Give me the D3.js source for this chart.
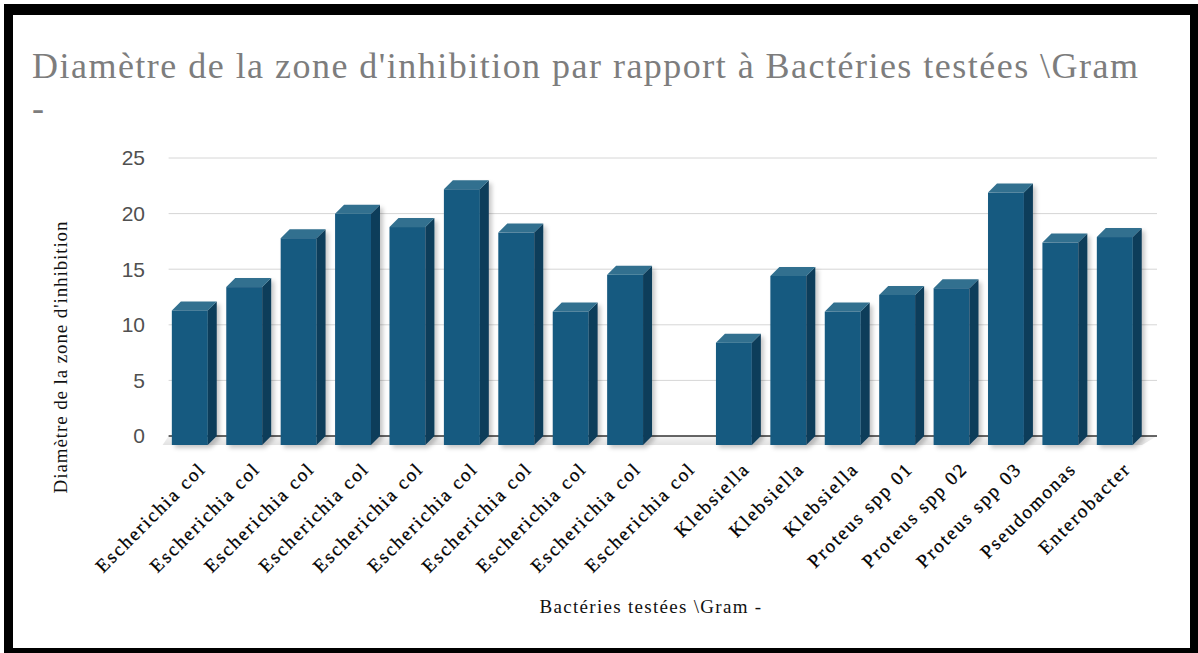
<!DOCTYPE html>
<html>
<head>
<meta charset="utf-8">
<script src="https://cdn.jsdelivr.net/npm/d3@7"></script>
<style>
  body { margin: 0; background: #fff; }
  svg { display: block; }
</style>
</head>
<body>
<svg id="chart" width="1198" height="653"></svg>
<script>
// bacteria tested (Gram -) and inhibition zone diameter
const categories = [
  "Escherichia col", "Escherichia col", "Escherichia col", "Escherichia col", "Escherichia col",
  "Escherichia col", "Escherichia col", "Escherichia col", "Escherichia col", "Escherichia col",
  "Klebsiella", "Klebsiella", "Klebsiella",
  "Proteus spp 01", "Proteus spp 02", "Proteus spp 03",
  "Pseudomonas", "Enterobacter"
];
const values = [12.1, 14.2, 18.6, 20.8, 19.6, 23.0, 19.1, 12.0, 15.3, 0,
                9.2, 15.2, 12.0, 13.5, 14.1, 22.7, 18.2, 18.7];
const yTicks = [0, 5, 10, 15, 20, 25];

const titleLine1 = "Diamètre de la zone d'inhibition par rapport à Bactéries testées \\Gram";
const titleLine2 = "-";
const xTitle = "Bactéries testées \\Gram -";
const yTitle = "Diamètre de la zone d'inhibition";

const width = 1198, height = 653;
const depth = { dx: 9, dy: 9 };   // 3D offset of the back plane
const serif = "'Liberation Serif', 'Times New Roman', serif";

const svg = d3.select("#chart");

const defs = svg.append("defs");
const shadow = defs.append("filter").attr("id", "shadow")
  .attr("x", "-20%").attr("y", "-20%").attr("width", "150%").attr("height", "150%");
shadow.append("feDropShadow")
  .attr("dx", 3).attr("dy", 3).attr("stdDeviation", 2)
  .attr("flood-color", "#000").attr("flood-opacity", 0.22);

const floorGrad = defs.append("linearGradient").attr("id", "floor")
  .attr("x1", 0).attr("y1", 0).attr("x2", 0).attr("y2", 1);
floorGrad.append("stop").attr("offset", "0%").attr("stop-color", "#f4f4f4");
floorGrad.append("stop").attr("offset", "100%").attr("stop-color", "#e2e2e2");

// scales (front plane)
const x = d3.scaleBand()
  .domain(d3.range(categories.length))
  .range([162.6, 1142])
  .paddingInner(0.34)
  .paddingOuter(0.17);

const y = d3.scaleLinear().domain([0, 25]).range([445, 167]);

// title
svg.append("text")
  .attr("x", 32).attr("y", 78)
  .attr("textLength", 1106).attr("lengthAdjust", "spacing")
  .style("font-family", serif).style("font-size", "36px")
  .attr("fill", "#7d7d7d")
  .text(titleLine1);
svg.append("text")
  .attr("x", 32).attr("y", 120)
  .style("font-family", serif).style("font-size", "36px")
  .attr("fill", "#7d7d7d")
  .text(titleLine2);

// gridlines on back wall
const x0 = x.range()[0], x1 = x.range()[1];
svg.append("g").selectAll("line").data(yTicks.filter(t => t > 0)).enter().append("line")
  .attr("x1", x0 + 6).attr("x2", x1 + depth.dx + 6)
  .attr("y1", d => y(d) - depth.dy).attr("y2", d => y(d) - depth.dy)
  .attr("stroke", "#d6d6d6").attr("stroke-width", 1);

// floor
svg.append("path")
  .attr("d", `M${x0},${y(0)} L${x1},${y(0)} L${x1 + depth.dx + 6},${y(0) - depth.dy} L${x0 + 6},${y(0) - depth.dy} Z`)
  .attr("fill", "url(#floor)");

// axis line (back)
svg.append("line")
  .attr("x1", x0 + 6).attr("x2", x1 + depth.dx + 6)
  .attr("y1", y(0) - depth.dy).attr("y2", y(0) - depth.dy)
  .attr("stroke", "#333").attr("stroke-width", 1.5);

// y tick labels
svg.append("g").selectAll("text").data(yTicks).enter().append("text")
  .attr("x", 145)
  .attr("y", d => y(d) - depth.dy)
  .attr("dy", "0.35em")
  .attr("text-anchor", "end")
  .style("font-family", "'Liberation Sans', Arial, sans-serif")
  .style("font-size", "21px")
  .attr("fill", "#505050")
  .text(d => d);

// 3D bars
const bars = svg.append("g").attr("filter", "url(#shadow)")
  .selectAll("g").data(values.map((v, i) => ({ i, v })).filter(d => d.v > 0))
  .enter().append("g");

bars.append("rect")
  .attr("x", d => x(d.i))
  .attr("y", d => y(d.v))
  .attr("width", x.bandwidth())
  .attr("height", d => y(0) - y(d.v))
  .attr("fill", "#175a80");

bars.append("path")
  .attr("d", d => {
    const xr = x(d.i) + x.bandwidth(), yt = y(d.v), yb = y(0);
    return `M${xr},${yt} L${xr + depth.dx},${yt - depth.dy} L${xr + depth.dx},${yb - depth.dy} L${xr},${yb} Z`;
  })
  .attr("fill", "#0e3d5a");

bars.append("path")
  .attr("d", d => {
    const xl = x(d.i), xr = xl + x.bandwidth(), yt = y(d.v);
    return `M${xl},${yt} L${xl + depth.dx},${yt - depth.dy} L${xr + depth.dx},${yt - depth.dy} L${xr},${yt} Z`;
  })
  .attr("fill", "#31708f");

// x labels
svg.append("g").selectAll("text").data(categories).enter().append("text")
  .attr("transform", (d, i) => `translate(${x(i) + x.bandwidth() / 2 + 17},${470}) rotate(-45)`)
  .attr("text-anchor", "end")
  .style("font-family", serif)
  .style("font-size", "19px")
  .style("letter-spacing", "2px")
  .attr("fill", "#000")
  .attr("stroke", "#000").attr("stroke-width", 0.3)
  .text(d => d);

// axis titles
svg.append("text")
  .attr("x", 651).attr("y", 613)
  .attr("text-anchor", "middle")
  .style("font-family", serif).style("font-size", "19px")
  .style("letter-spacing", "1.3px")
  .attr("fill", "#111")
  .text(xTitle);

svg.append("text")
  .attr("transform", `translate(67,357) rotate(-90)`)
  .attr("text-anchor", "middle")
  .style("font-family", serif).style("font-size", "19px")
  .style("letter-spacing", "0.9px")
  .attr("fill", "#111")
  .text(yTitle);

// black frame
const frame = svg.append("g").attr("fill", "#000");
frame.append("rect").attr("x", 4).attr("y", 4).attr("width", 1194).attr("height", 11);
frame.append("rect").attr("x", 4).attr("y", 4).attr("width", 9).attr("height", 649);
frame.append("rect").attr("x", 1190).attr("y", 4).attr("width", 8).attr("height", 649);
frame.append("rect").attr("x", 4).attr("y", 648).attr("width", 1194).attr("height", 5);
</script>
</body>
</html>
